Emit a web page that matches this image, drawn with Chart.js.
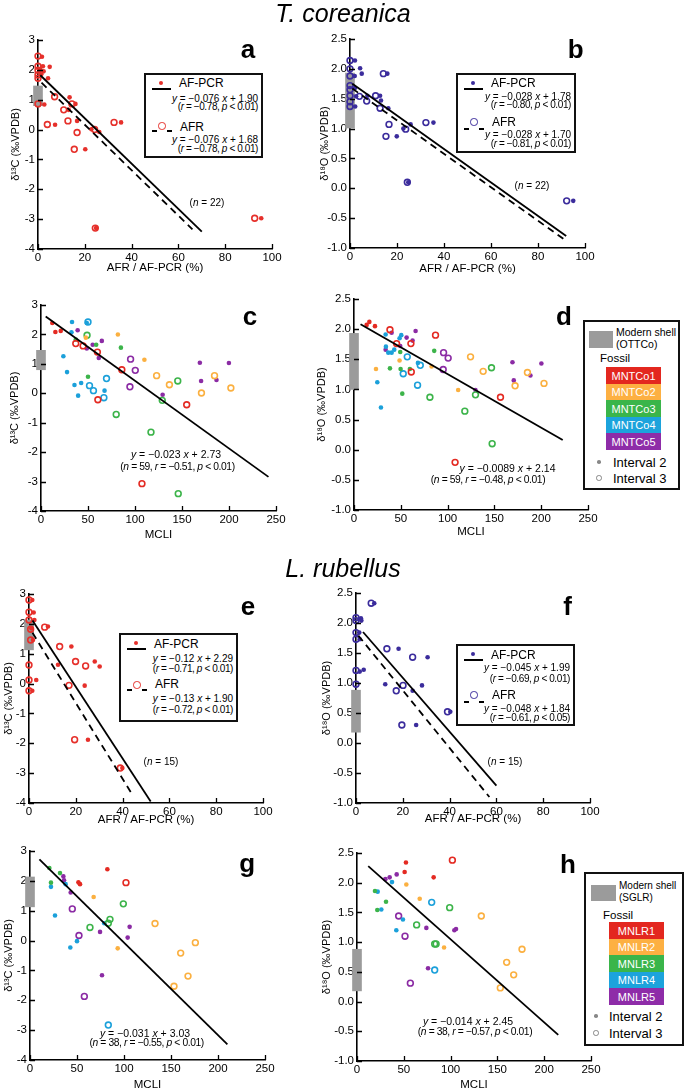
<!DOCTYPE html>
<html><head><meta charset="utf-8">
<script src="https://cdn.jsdelivr.net/npm/chart.js@4.4.0/dist/chart.umd.min.js"></script>
<style>
html,body{margin:0;padding:0;background:#fff;overflow:hidden;width:685px;height:1089px;}
body{position:relative;font-family:"Liberation Sans",Arial,Helvetica,sans-serif;color:#000;}
canvas{position:absolute;}
.t{position:absolute;white-space:nowrap;line-height:1;}
.box{position:absolute;box-sizing:border-box;border:2px solid #111;background:#fff;}
.abs{position:absolute;}
.tight{letter-spacing:-0.4px;}
</style>
</head><body>
<script>
// ---------- DATA ----------
const xTicksAfr = [0, 20, 40, 60, 80, 100];
const xTicksMcli = [0, 50, 100, 150, 200, 250];
const yTicksC = [-4, -3, -2, -1, 0, 1, 2, 3];
const yTicksO = [-1.0, -0.5, 0.0, 0.5, 1.0, 1.5, 2.0, 2.5];

// Panel a: T. coreanica, d13C vs AFR / AF-PCR
const aPcr = [[1.7,2.44],[2.1,2.12],[5.0,2.10],[1.4,1.85],[4.3,1.72],[1.0,2.0],[2.4,1.95],[13.5,1.08],[16.0,0.86],[13.1,0.66],[2.7,0.84],[7.3,0.16],[16.7,0.29],[22.8,0.01],[26.2,-0.08],[35.5,0.24],[20.2,-0.66],[24.8,-3.30],[95.4,-2.97]];
const aAfr = [[0,2.46],[0,2.12],[0,1.99],[0,1.83],[0,1.72],[0,0.86],[7.1,1.10],[11.0,0.66],[14.5,0.86],[12.8,0.29],[4.0,0.17],[16.7,-0.10],[15.5,-0.66],[24.2,0.0],[32.5,0.24],[24.5,-3.30],[92.6,-2.97]];
const aLinePcr = [[1,1.82],[70,-3.42]];
const aLineAfr = [[1.5,1.57],[66,-3.34]];
const aModern = [0.8, 1.46];

// Panel b: T. coreanica, d18O vs AFR / AF-PCR
const bPcr = [[2.1,2.14],[4.3,2.01],[5.0,1.92],[2.1,1.68],[2.6,1.54],[2.0,1.88],[15.9,1.92],[7.4,1.55],[12.8,1.55],[13.2,1.47],[16.3,1.34],[25.8,1.07],[35.5,1.10],[19.9,0.87],[22.7,1.00],[24.8,0.10],[95.0,-0.21],[2.2,1.37]];
const bAfr = [[0,2.14],[0,2.00],[0,1.88],[0,1.72],[0,1.65],[0,1.55],[0,1.45],[0,1.37],[4.0,1.54],[7.1,1.46],[10.9,1.55],[14.2,1.92],[12.8,1.34],[16.6,1.07],[15.3,0.87],[23.7,0.99],[32.3,1.10],[24.4,0.10],[92.2,-0.21]];
const bLinePcr = [[1,1.75],[92,-0.80]];
const bLineAfr = [[1,1.67],[92,-0.88]];
const bModern = [1.01, 1.93];

// Panel c: T. coreanica, d13C vs MCLI (i2 = Interval 2 filled, i3 = Interval 3 open)
const cMNTCo1i2 = [[12,2.39],[15.3,2.08],[21,2.12]];
const cMNTCo1i3 = [[37,1.69],[44.8,1.61],[60,1.40],[86,0.80],[60.5,-0.22],[107.4,-3.07],[155,-0.39]];
const cMNTCo2i2 = [[81.8,2.0],[110,1.14],[47.7,1.89]];
const cMNTCo2i3 = [[123,0.60],[136.6,0.29],[170.7,0.01],[184.6,0.60],[202,0.18]];
const cMNTCo3i2 = [[37,1.83],[58.7,1.65],[85,1.55],[50,0.56]];
const cMNTCo3i3 = [[49,1.97],[80,-0.72],[117,-1.32],[145.5,0.42],[129,-0.24],[146,-3.41]];
const cMNTCo4i2 = [[33,2.42],[48.7,2.39],[32.4,2.07],[23.8,1.26],[27.7,0.72],[35.6,0.28],[42.7,0.35],[39.5,-0.08],[67.6,0.09]];
const cMNTCo4i3 = [[50,2.42],[51.6,0.26],[55.8,0.09],[69.7,0.50],[66.9,-0.15]];
const cMNTCo5i2 = [[39,2.14],[64.7,1.78],[48.7,1.52],[61.5,1.20],[55,1.65],[169,1.04],[170.3,0.42],[186.7,0.45],[199.9,1.03],[129.4,-0.05]];
const cMNTCo5i3 = [[95.3,1.16],[100.3,0.78],[94.6,0.22]];
const cLine = [[5,2.61],[242,-2.84]];
const cModern = [0.8, 1.46];

// Panel d: T. coreanica, d18O vs MCLI
const dMNTCo1i2 = [[13.5,2.07],[16.4,2.12],[22.4,2.05]];
const dMNTCo1i3 = [[38.4,1.99],[45.5,1.76],[60.8,1.76],[61.2,1.29],[87.1,1.90],[108,-0.21],[156.5,0.87]];
const dMNTCo2i2 = [[23.5,1.34],[48.7,1.48],[82.9,1.38],[111.3,0.99]];
const dMNTCo2i3 = [[124.5,1.54],[138,1.30],[172.1,1.06],[185.3,1.28],[203,1.10]];
const dMNTCo3i2 = [[38.4,1.35],[49.4,1.62],[49.8,1.34],[51.6,0.93],[59.7,1.34],[85.7,1.64]];
const dMNTCo3i3 = [[81.1,0.87],[118.4,0.64],[129.8,0.91],[146.9,1.36],[147.6,0.10]];
const dMNTCo4i2 = [[33.8,1.91],[34.1,1.71],[36.6,1.61],[40.2,1.61],[43,1.66],[50.5,1.90],[24.9,1.12],[28.8,0.70],[68.3,1.44],[48.7,1.85]];
const dMNTCo4i3 = [[56.9,1.54],[52.6,1.26],[67.9,1.07],[70.8,1.40]];
const dMNTCo5i2 = [[33.8,1.66],[40.2,1.94],[49.4,1.72],[56.2,1.86],[65.8,1.97],[62.6,1.81],[129.8,0.99],[169.3,1.45],[170.7,1.15],[188.5,1.23],[200.2,1.43]];
const dMNTCo5i3 = [[95.7,1.61],[100.6,1.52],[95.3,1.33]];
const dLine = [[7,2.08],[223,0.16]];
const dModern = [1.0, 1.93];

// Panel e: L. rubellus, d13C vs AFR / AF-PCR
const ePcr = [[1.4,2.80],[2.0,2.38],[2.3,2.13],[1.0,1.85],[1.7,1.46],[8.1,1.91],[18.1,1.24],[12.4,0.63],[28.1,0.74],[30.2,0.57],[23.8,-0.07],[3.1,0.12],[1.4,-0.24],[25.2,-1.88],[39.9,-2.83]];
const eAfr = [[0,2.80],[0,2.39],[0,2.13],[0.7,1.82],[0.7,1.46],[0,0.62],[0,0.12],[0,-0.24],[6.7,1.89],[13.1,1.24],[19.9,0.74],[24.2,0.59],[17.1,-0.06],[19.5,-1.88],[39.0,-2.83]];
const eLinePcr = [[1.5,2.11],[52,-3.95]];
const eLineAfr = [[1.5,1.70],[44,-3.70]];
const eModern = [1.13, 2.13];

// Panel f: L. rubellus, d18O vs AFR / AF-PCR
const fPcr = [[7.8,2.33],[2.1,2.08],[2.3,2.04],[1.4,1.84],[1.6,1.73],[3.3,1.22],[1.6,1.19],[18.2,1.57],[30.6,1.43],[12.5,0.98],[28.2,0.96],[24.2,0.87],[40.3,0.52],[25.7,0.30]];
const fAfr = [[6.5,2.33],[0,2.09],[0,2.04],[0,1.84],[0,1.73],[0,1.21],[0,0.98],[13.2,1.57],[24.2,1.43],[20.1,0.96],[17.2,0.87],[39.1,0.52],[19.6,0.30]];
const fLinePcr = [[3,1.85],[60,-0.71]];
const fLineAfr = [[1,1.79],[57,-0.90]];
const fModern = [0.18, 0.88];

// Panel g: L. rubellus, d13C vs MCLI
const gMNLR1i2 = [[82.3,2.39],[53.2,1.89],[51.5,1.95]];
const gMNLR1i3 = [[102.1,1.94]];
const gMNLR2i2 = [[67.7,1.46],[93.3,-0.26]];
const gMNLR2i3 = [[133,0.57],[175.9,-0.07],[160.3,-0.42],[168.1,-1.19],[153.2,-1.53]];
const gMNLR3i2 = [[20.6,2.43],[31.9,2.26],[22.3,1.94]];
const gMNLR3i3 = [[99.3,1.23],[85.1,0.71],[83.3,0.58],[63.8,0.44]];
const gMNLR4i2 = [[22.3,1.80],[37.9,1.89],[26.6,0.84],[42.9,-0.23],[50,-0.02],[79,0.58]];
const gMNLR4i3 = [[83.3,-2.83]];
const gMNLR5i2 = [[35.5,2.15],[36.2,2.02],[43.3,1.61],[74.5,0.29],[76.6,-1.16],[106,0.46],[103.9,0.10]];
const gMNLR5i3 = [[45,1.06],[52.1,0.17],[57.8,-1.87]];
const gLine = [[10,2.72],[210,-3.48]];
const gModern = [1.13, 2.13];

// Panel h: L. rubellus, d18O vs MCLI
const hMNLR1i2 = [[52.3,2.34],[50.9,2.18],[81.9,2.09]];
const hMNLR1i3 = [[101.9,2.38]];
const hMNLR2i2 = [[52.7,1.97],[67,1.73],[93,0.91]];
const hMNLR2i3 = [[132.8,1.44],[176.3,0.88],[159.9,0.66],[167.4,0.45],[153.1,0.23]];
const hMNLR3i2 = [[19.2,1.86],[21.7,1.54],[31,1.68]];
const hMNLR3i3 = [[99,1.58],[83,0.97],[63.7,1.29],[84.5,0.97]];
const hMNLR4i2 = [[22.1,1.85],[26,1.55],[37.4,2.01],[42,1.20],[49.1,1.38]];
const hMNLR4i3 = [[79.8,1.67],[83,0.53]];
const hMNLR5i2 = [[30.3,2.06],[34.9,2.09],[42.4,2.14],[74.1,1.24],[75.9,0.56],[105.8,1.22],[104,1.20]];
const hMNLR5i3 = [[44.5,1.44],[51.3,1.10],[57,0.31]];
const hLine = [[12,2.28],[215,-0.56]];
const hModern = [0.18, 0.88];

const fossilNamesC = ['MNTCo1','MNTCo2','MNTCo3','MNTCo4','MNTCo5'];
const fossilNamesL = ['MNLR1','MNLR2','MNLR3','MNLR4','MNLR5'];

// ---------- STYLE ----------
const F = '"Liberation Sans", Arial, Helvetica, sans-serif';
const RED = '#e6302b', NAVY = '#3b2c9c', GRAY = '#9b9b9b';
const GROUP = ['#e42a22', '#fbb040', '#3cb44a', '#1ba0da', '#8b2ba4'];
const LEG_GROUP = ['#e3271f', '#fdb042', '#3ab54a', '#1ca3dc', '#8e2ca8'];

const pts = arr => arr.map(([x, y]) => ({x, y}));
const filled = (arr, c) => ({type:'scatter', data:pts(arr), pointRadius:2.3, pointBackgroundColor:c, pointBorderColor:c, pointBorderWidth:0, order:2, clip:false});
const open = (arr, c) => ({type:'scatter', data:pts(arr), pointRadius:2.9, pointBackgroundColor:'rgba(255,255,255,0)', pointBorderColor:c, pointBorderWidth:1.6, order:2, clip:false});
const fitLine = (arr, dashed) => ({type:'line', data:pts(arr), showLine:true, borderColor:'#000', borderWidth:1.8, borderDash: dashed ? [7,5] : [], pointRadius:0, fill:false, order:1, clip:false});
const shell = r => ({type:'bar', data:[{x:0, y:r}], backgroundColor:GRAY, borderWidth:0, barThickness:9, order:3, clip:false});
const groups = (lists2, lists3) => {
  const out = [];
  for (let i = 0; i < 5; i++) { out.push(filled(lists2[i], GROUP[i])); out.push(open(lists3[i], GROUP[i])); }
  return out;
};

const inTicks = {
  id:'inTicks',
  afterDraw(chart) {
    const {ctx, chartArea:a, scales:{x, y}} = chart;
    ctx.save(); ctx.strokeStyle = '#000'; ctx.lineWidth = 1.3; ctx.beginPath();
    x.ticks.forEach(t => { const p = Math.round(x.getPixelForValue(t.value)) + 0.5; ctx.moveTo(p, a.bottom); ctx.lineTo(p, a.bottom - 5); });
    y.ticks.forEach(t => { const p = Math.round(y.getPixelForValue(t.value)) + 0.5; ctx.moveTo(a.left, p); ctx.lineTo(a.left + 5, p); });
    ctx.stroke(); ctx.restore();
  }
};

function makePanel(p) {
  const cw = 300, cy = p.T - 14, ch = p.B + 40 - cy;
  const cv = document.createElement('canvas');
  cv.width = cw; cv.height = ch;
  cv.style.left = p.cx + 'px'; cv.style.top = cy + 'px';
  cv.style.width = cw + 'px'; cv.style.height = ch + 'px';
  document.body.appendChild(cv);
  const isC = p.y === 'C';
  const xT = p.x === 'afr' ? xTicksAfr : xTicksMcli;
  const yT = isC ? yTicksC : yTicksO;
  new Chart(cv, {
    type:'scatter',
    data:{datasets:p.ds},
    plugins:[inTicks],
    options:{
      responsive:false, animation:false, events:[], devicePixelRatio:1,
      layout:{padding:{left:0, right:p.cx + cw - p.R, top:14, bottom:0}},
      plugins:{legend:{display:false}, tooltip:{enabled:false}},
      scales:{
        x:{type:'linear', min:xT[0], max:xT[xT.length-1], offset:false,
          afterBuildTicks: s => { s.ticks = xT.map(v => ({value:v})); },
          afterFit: s => { s.height = 40; },
          grid:{display:false, offset:false, drawTicks:false},
          border:{display:true, color:'#000', width:1.6},
          ticks:{color:'#000', font:{size:11.5, family:F}, padding:2, maxRotation:0, autoSkip:false},
          title:{display:true, text: p.x === 'afr' ? 'AFR / AF-PCR (%)' : 'MCLI', color:'#000', font:{size:11.5, family:F}, padding:{top:0, bottom:p.xtp}}},
        y:{type:'linear', min:yT[0], max:yT[yT.length-1],
          afterBuildTicks: s => { s.ticks = yT.map(v => ({value:v})); },
          afterFit: s => { s.width = p.L - p.cx; },
          grid:{display:false, drawTicks:false},
          border:{display:true, color:'#000', width:1.6},
          ticks:{color:'#000', font:{size:11.5, family:F}, padding:3, autoSkip:false,
            callback: v => isC ? String(v) : v.toFixed(1)},
          title:{display:true, text: isC ? 'δ¹³C (‰VPDB)' : 'δ¹⁸O (‰VPDB)', color:'#000', font:{size:11, family:F}, padding:{top:p.ytp, bottom:0}}}
      }
    }
  });
}

const panels = [
  {cx:0, T:40, B:249, L:38, R:272, x:'afr', y:'C', ytp:9.1, xtp:14.1,
   ds:[fitLine(aLinePcr,false), fitLine(aLineAfr,true), open(aAfr,RED), filled(aPcr,RED), shell(aModern)]},
  {cx:312, T:39, B:248, L:350, R:585, x:'afr', y:'O', ytp:6.4, xtp:12.1,
   ds:[fitLine(bLinePcr,false), fitLine(bLineAfr,true), open(bAfr,NAVY), filled(bPcr,NAVY), shell(bModern)]},
  {cx:0, T:305, B:511, L:41, R:276, x:'mcli', y:'C', ytp:8.4, xtp:9.1,
   ds:[fitLine(cLine,false), ...groups([cMNTCo1i2,cMNTCo2i2,cMNTCo3i2,cMNTCo4i2,cMNTCo5i2],[cMNTCo1i3,cMNTCo2i3,cMNTCo3i3,cMNTCo4i3,cMNTCo5i3]), shell(cModern)]},
  {cx:312, T:299, B:510, L:354, R:588, x:'mcli', y:'O', ytp:3.4, xtp:11.1,
   ds:[fitLine(dLine,false), ...groups([dMNTCo1i2,dMNTCo2i2,dMNTCo3i2,dMNTCo4i2,dMNTCo5i2],[dMNTCo1i3,dMNTCo2i3,dMNTCo3i3,dMNTCo4i3,dMNTCo5i3]), shell(dModern)]},
  {cx:0, T:594, B:803, L:29, R:263, x:'afr', y:'C', ytp:1.9, xtp:16.1,
   ds:[fitLine(eLinePcr,false), fitLine(eLineAfr,true), open(eAfr,RED), filled(ePcr,RED), shell(eModern)]},
  {cx:312, T:593, B:803, L:356, R:590, x:'afr', y:'O', ytp:8.1, xtp:16.8,
   ds:[fitLine(fLinePcr,false), fitLine(fLineAfr,true), open(fAfr,NAVY), filled(fPcr,NAVY), shell(fModern)]},
  {cx:0, T:851, B:1060, L:30, R:265, x:'mcli', y:'C', ytp:2.4, xtp:8.1,
   ds:[fitLine(gLine,false), ...groups([gMNLR1i2,gMNLR2i2,gMNLR3i2,gMNLR4i2,gMNLR5i2],[gMNLR1i3,gMNLR2i3,gMNLR3i3,gMNLR4i3,gMNLR5i3]), shell(gModern)]},
  {cx:312, T:853, B:1061, L:357, R:591, x:'mcli', y:'O', ytp:8.4, xtp:9.1,
   ds:[fitLine(hLine,false), ...groups([hMNLR1i2,hMNLR2i2,hMNLR3i2,hMNLR4i2,hMNLR5i2],[hMNLR1i3,hMNLR2i3,hMNLR3i3,hMNLR4i3,hMNLR5i3]), shell(hModern)]}
];
panels.forEach(makePanel);

// ---------- TEXT OVERLAYS ----------
function addText(html, x, y, size, o = {}) {
  const d = document.createElement('div');
  d.className = 't' + (o.cls ? ' ' + o.cls : '');
  d.innerHTML = html;
  d.style.fontSize = size + 'px';
  d.style.left = x + 'px'; d.style.top = y + 'px';
  const ax = o.align === 'left' ? '0' : o.align === 'right' ? '-100%' : '-50%';
  const ay = o.top ? '0' : '-50%';
  d.style.transform = `translate(${ax},${ay})`;
  if (o.bold) d.style.fontWeight = 'bold';
  if (o.italic) d.style.fontStyle = 'italic';
  if (o.color) d.style.color = o.color;
  (o.parent || document.body).appendChild(d);
  return d;
}
function addDiv(parent, css) {
  const d = document.createElement('div');
  d.className = 'abs';
  Object.assign(d.style, css);
  parent.appendChild(d);
  return d;
}

addText('T. coreanica', 343, 12.5, 25, {italic:true});
addText('L. rubellus', 343, 568, 25, {italic:true});

[['a',248,36.3],['b',575.7,36.3],['c',250,303],['d',564,303],['e',248,593],['f',567.5,593],['g',247.3,849.7],['h',568,851.3]]
  .forEach(([l,x,y]) => addText(l, x, y, 26, {bold:true, top:true}));

const nTxt = n => `(<i>n</i> = ${n})`;
addText(nTxt(22), 207, 203, 10);
addText(nTxt(22), 532, 185.5, 10);
addText(nTxt(15), 161, 761.7, 10);
addText(nTxt(15), 505, 761.7, 10);
addText('<i>y</i> = −0.023 <i>x</i> + 2.73', 176, 454, 10.5);
addText('(<i>n</i> = 59, <i>r</i> = −0.51, <i>p</i> &lt; 0.01)', 177.5, 466.7, 10.3, {cls:'tight'});
addText('<i>y</i> = −0.0089 <i>x</i> + 2.14', 507.5, 467.7, 10.5);
addText('(<i>n</i> = 59, <i>r</i> = −0.48, <i>p</i> &lt; 0.01)', 488, 480.3, 10.3, {cls:'tight'});
addText('<i>y</i> = −0.031 <i>x</i> + 3.03', 145, 1033.3, 10.5);
addText('(<i>n</i> = 38, <i>r</i> = −0.55, <i>p</i> &lt; 0.01)', 146.7, 1043.3, 10.3, {cls:'tight'});
addText('<i>y</i> = −0.014 <i>x</i> + 2.45', 468, 1021.3, 10.5);
addText('(<i>n</i> = 38, <i>r</i> = −0.57, <i>p</i> &lt; 0.01)', 475, 1032, 10.3, {cls:'tight'});

// regression legends (a, b, e, f)
function fitLegend(left, top, w, h, color, eqs, ys) {
  const [dotY, lineY, pcrY, e1Y, e2Y, circY, dashY, afrY, e3Y, e4Y] = ys;
  const b = document.createElement('div');
  b.className = 'box';
  Object.assign(b.style, {left:left+'px', top:top+'px', width:w+'px', height:h+'px'});
  document.body.appendChild(b);
  const ox = -2, oy = -2; // border offset
  const rx = w - 5 + ox;
  addDiv(b, {left:(17-2.3+ox)+'px', top:(dotY-2.3+oy)+'px', width:'4.6px', height:'4.6px', borderRadius:'50%', background:color});
  addDiv(b, {left:(8+ox)+'px', top:(lineY-1+oy)+'px', width:'19px', height:'2px', background:'#000'});
  addText('AF-PCR', 35+ox, pcrY+oy, 12, {align:'left', parent:b});
  addText(eqs[0], rx, e1Y+oy, 10, {align:'right', parent:b});
  addText(eqs[1], rx, e2Y+oy, 10, {align:'right', parent:b, cls:'tight'});
  addDiv(b, {left:(18-3.7+ox)+'px', top:(circY-3.7+oy)+'px', width:'7.4px', height:'7.4px', boxSizing:'border-box', border:'1.6px solid '+color, borderRadius:'50%'});
  addDiv(b, {left:(8+ox)+'px', top:(dashY-1+oy)+'px', width:'5px', height:'2px', background:'#000'});
  addDiv(b, {left:(23+ox)+'px', top:(dashY-1+oy)+'px', width:'5px', height:'2px', background:'#000'});
  addText('AFR', 36+ox, afrY+oy, 12, {align:'left', parent:b});
  addText(eqs[2], rx, e3Y+oy, 10, {align:'right', parent:b});
  addText(eqs[3], rx, e4Y+oy, 10, {align:'right', parent:b, cls:'tight'});
}
const eqY = (a, b) => `<i>y</i> = −${a} <i>x</i> + ${b}`;
const eqR = (r, p) => `(<i>r</i> = −${r}, <i>p</i> &lt; ${p})`;
fitLegend(144, 73, 119, 85, RED, [eqY('0.076','1.90'), eqR('0.78','0.01'), eqY('0.076','1.68'), eqR('0.78','0.01')], [10,16,10,26,34,53,58,54,67,76]);
fitLegend(456, 73, 120, 80, NAVY, [eqY('0.028','1.78'), eqR('0.80','0.01'), eqY('0.028','1.70'), eqR('0.81','0.01')], [10,16,10,24,32,49,56,49,62,71]);
fitLegend(119, 633, 119, 89, RED, [eqY('0.12','2.29'), eqR('0.71','0.01'), eqY('0.13','1.90'), eqR('0.72','0.01')], [10,16,11,26,36,52,57,51,66,77]);
fitLegend(456, 644, 119, 82, NAVY, [eqY('0.045','1.99'), eqR('0.69','0.01'), eqY('0.048','1.84'), eqR('0.61','0.05')], [10,16,11,24,35,51,58,51,65,74]);

// modern shell / fossil legends (d, h)
function shellLegend(left, top, w, h, site, names, g) {
  const b = document.createElement('div');
  b.className = 'box';
  Object.assign(b.style, {left:left+'px', top:top+'px', width:w+'px', height:h+'px'});
  document.body.appendChild(b);
  const o = -2;
  addDiv(b, {left:(g.gx+o)+'px', top:(g.gy+o)+'px', width:g.gw+'px', height:g.gh+'px', background:GRAY});
  addText('Modern shell', g.tx+o, g.ty1+o, g.ts, {align:'left', parent:b});
  addText('(' + site + ')', g.tx+o, g.ty2+o, g.ts, {align:'left', parent:b});
  addText('Fossil', g.fx+o, g.fy+o, 11.5, {align:'left', parent:b});
  names.forEach((n, i) => {
    const c = addDiv(b, {left:(g.bx+o)+'px', top:(g.by+i*16.5+o)+'px', width:g.bw+'px', height:'16.5px', background:LEG_GROUP[i]});
    addText(n, g.bw/2, 8.5, 11, {parent:c, color:'#fff'});
  });
  addDiv(b, {left:(g.mx-1.8+o)+'px', top:(g.iy2-1.8+o)+'px', width:'3.6px', height:'3.6px', borderRadius:'50%', background:'#888'});
  addDiv(b, {left:(g.mx-2.8+o)+'px', top:(g.iy3-2.8+o)+'px', width:'5.6px', height:'5.6px', boxSizing:'border-box', border:'1.2px solid #888', borderRadius:'50%'});
  addText('Interval 2', g.itx+o, g.iy2+o, 13, {align:'left', parent:b});
  addText('Interval 3', g.itx+o, g.iy3+o, 13, {align:'left', parent:b});
}
shellLegend(583, 320, 97, 170, 'OTTCo', fossilNamesC,
  {gx:6, gy:11, gw:24, gh:17, tx:33, ty1:12, ty2:24, ts:10.5, fx:17, fy:39, bx:23, by:47, bw:55, mx:16, iy2:142, iy3:158, itx:30});
shellLegend(584, 872, 100, 174, 'SGLR', fossilNamesL,
  {gx:7, gy:13, gw:25, gh:16, tx:35, ty1:14, ty2:26, ts:10, fx:19, fy:44, bx:25, by:50, bw:55, mx:12, iy2:144, iy3:161, itx:25});
</script>
</body></html>
